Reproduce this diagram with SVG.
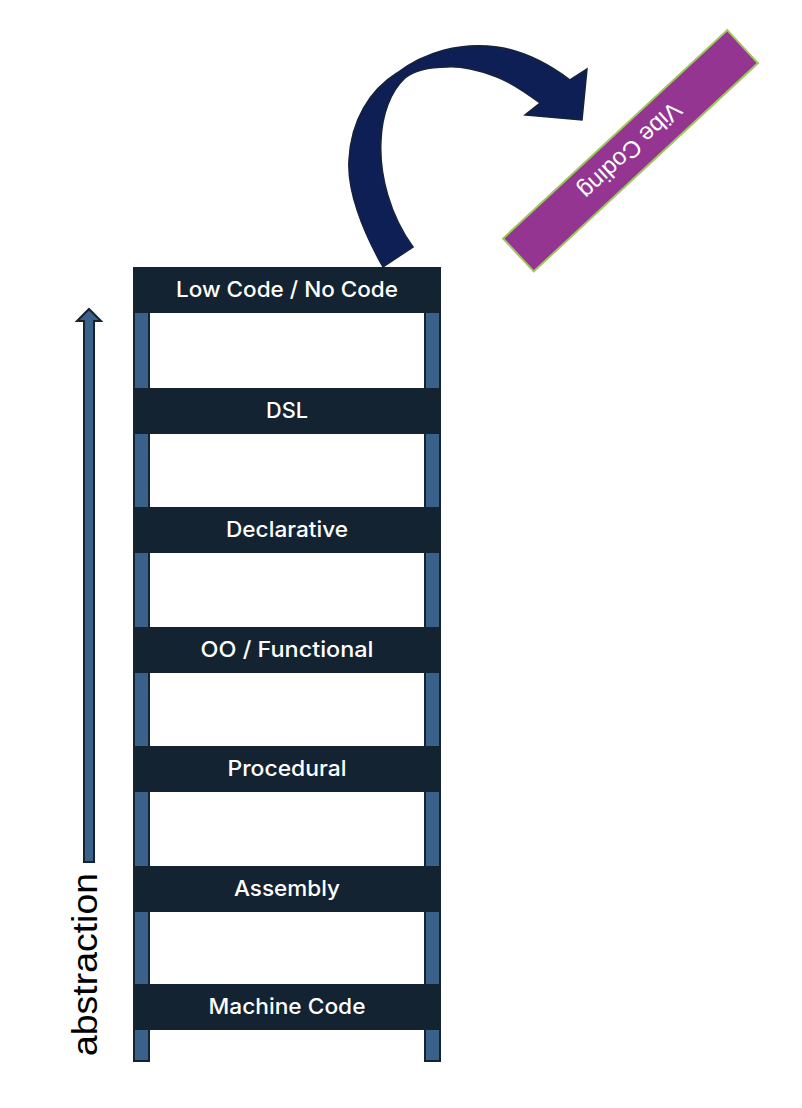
<svg xmlns="http://www.w3.org/2000/svg" width="802" height="1108" viewBox="0 0 802 1108">
<style>
.rail{fill:#39618a;stroke:#15222f;stroke-width:2}
.rung{fill:#132332}
.lbl{font-family:Inter,"Open Sans",sans-serif;font-size:21.5px;font-weight:500;fill:#ffffff;text-anchor:middle}
</style>
<rect width="802" height="1108" fill="#ffffff"/>
<g id="rails">
<rect class="rail" x="134" y="290" width="15" height="771"/>
<rect class="rail" x="425" y="290" width="15" height="771"/>
</g>
<g id="n-lowcode"><rect class="rung" x="133" y="267" width="308" height="46"/><text class="lbl" x="287" y="297" textLength="222" lengthAdjust="spacingAndGlyphs">Low Code / No Code</text></g>
<g id="n-dsl"><rect class="rung" x="133" y="388" width="308" height="46"/><text class="lbl" x="287" y="418" textLength="42" lengthAdjust="spacingAndGlyphs">DSL</text></g>
<g id="n-declarative"><rect class="rung" x="133" y="507" width="308" height="46"/><text class="lbl" x="287" y="537" textLength="122" lengthAdjust="spacingAndGlyphs">Declarative</text></g>
<g id="n-oo"><rect class="rung" x="133" y="627" width="308" height="46"/><text class="lbl" x="287" y="657" textLength="173" lengthAdjust="spacingAndGlyphs">OO / Functional</text></g>
<g id="n-procedural"><rect class="rung" x="133" y="746" width="308" height="46"/><text class="lbl" x="287" y="776" textLength="119" lengthAdjust="spacingAndGlyphs">Procedural</text></g>
<g id="n-assembly"><rect class="rung" x="133" y="866" width="308" height="46"/><text class="lbl" x="287" y="896" textLength="106" lengthAdjust="spacingAndGlyphs">Assembly</text></g>
<g id="n-machine"><rect class="rung" x="133" y="984" width="308" height="46"/><text class="lbl" x="287" y="1014" textLength="157" lengthAdjust="spacingAndGlyphs">Machine Code</text></g>
<g id="abstraction">
<path d="M84,862 L84,321 L77,321 L89,309 L101,321 L94,321 L94,862 Z" fill="#39618a" stroke="#15222f" stroke-width="2"/>
<text x="0" y="0" transform="translate(97,1056) rotate(-90)" font-family="'Liberation Sans',Arial,sans-serif" font-size="35" fill="#000000" textLength="183" lengthAdjust="spacingAndGlyphs">abstraction</text>
</g>
<g id="connectors">
<path d="M383,267 C362,230 347,190 349,160 C351,120 370,90 397,73 C425,52 460,42 497,47 C525,51 550,65 570,80 L587,69 L582,120 L525,115 L540,103 C525,92 510,82 497,77 C480,70 460,66 447,67 C430,67 415,70 405,78 C390,92 382,115 381,140 C379,175 390,215 413,247 Z" fill="#0d1f55" stroke="#16233a" stroke-width="1.5"/>
</g>
<g id="n-vibe" transform="translate(630.5,150.8) rotate(137.1)">
<rect x="-153" y="-22.5" width="306" height="45" fill="#943592" stroke="#9cc75c" stroke-width="2"/>
<text x="0" y="8.5" font-family="'Liberation Sans',Arial,sans-serif" font-size="24" fill="#ffffff" text-anchor="middle">Vibe Coding</text>
</g>
</svg>
